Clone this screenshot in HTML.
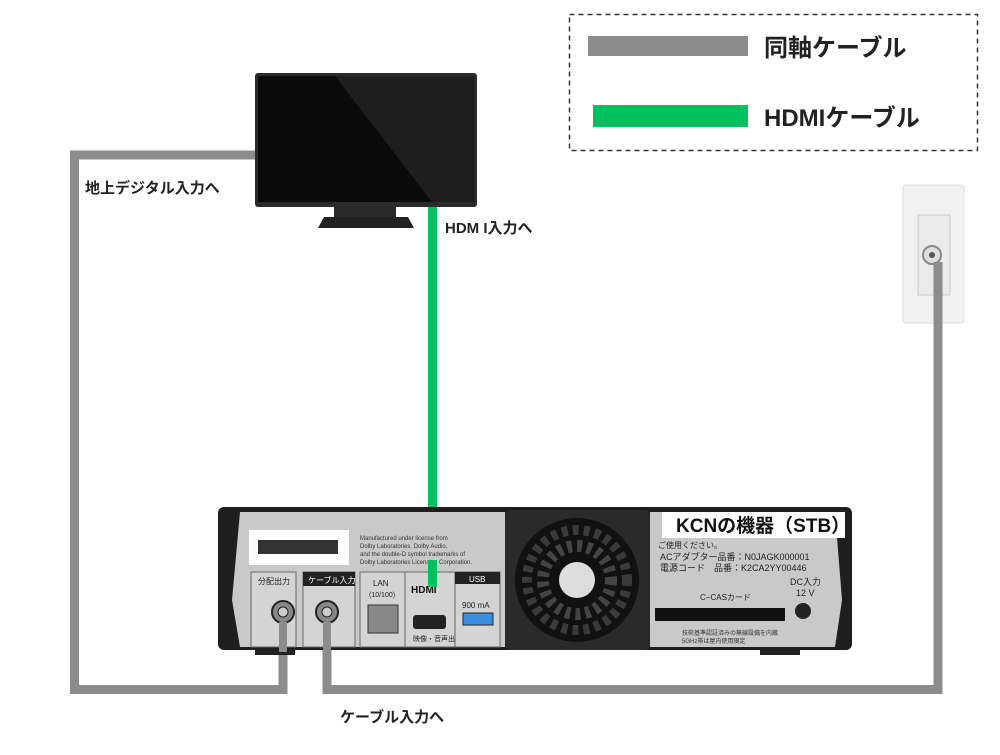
<!DOCTYPE html>
<html><head><meta charset="utf-8"><style>
body{margin:0;width:1000px;height:750px;background:#fff;overflow:hidden;font-family:"Liberation Sans","Noto Sans CJK JP",sans-serif}
svg text{font-family:"Liberation Sans","Noto Sans CJK JP",sans-serif}
</style></head><body>
<svg width="1000" height="750" viewBox="0 0 1000 750" xmlns="http://www.w3.org/2000/svg">
<!-- legend -->
<rect x="569.5" y="14.5" width="408" height="136" fill="#fff" stroke="#333" stroke-width="1.5" stroke-dasharray="5,4"/>
<rect x="588" y="36" width="160" height="20" fill="#8c8c8c"/>
<text x="764" y="56" font-size="24" font-weight="bold" fill="#222">同軸ケーブル</text>
<rect x="593" y="105" width="155" height="22" fill="#00c060"/>
<text x="764" y="126" font-size="24" font-weight="bold" fill="#222">HDMIケーブル</text>
<!-- cables -->
<polyline points="258,155 74.5,155 74.5,689.5 283,689.5 283,620" fill="none" stroke="#8c8c8c" stroke-width="9"/>
<polyline points="327,620 327,689.5 938,689.5 938,255" fill="none" stroke="#8c8c8c" stroke-width="9"/>
<!-- outlet -->
<rect x="903" y="185" width="61" height="138" rx="3" fill="#f1f1f1" stroke="#ddd"/>
<rect x="918" y="215" width="32" height="80" fill="#eaeaea" stroke="#ccc"/>
<circle cx="932" cy="255" r="9" fill="#ddd" stroke="#888" stroke-width="2"/>
<circle cx="932" cy="255" r="3" fill="#555"/>
<line x1="938" y1="262" x2="938" y2="330" stroke="#8c8c8c" stroke-width="9"/>
<!-- TV -->
<rect x="334" y="203" width="62" height="14" fill="#2a2a2a"/>
<polygon points="324,217 408,217 414,228 318,228" fill="#222"/>
<rect x="255" y="73" width="222" height="134" rx="3" fill="#2b2b2b"/>
<rect x="258" y="76" width="216" height="126" fill="#0a0a0a"/>
<polygon points="335,76 474,76 474,202 432,202" fill="#1e1e1e"/>
<!-- green -->
<rect x="428" y="207" width="9" height="380" fill="#00c060"/>
<!-- labels -->
<text x="85" y="193" font-size="15" font-weight="bold" fill="#222">地上デジタル入力へ</text>
<text x="445" y="233" font-size="15" font-weight="bold" fill="#222">HDM I入力へ</text>
<text x="340" y="722" font-size="15" font-weight="bold" fill="#222">ケーブル入力へ</text>
<!-- STB -->
<rect x="255" y="645" width="40" height="10" fill="#222"/>
<rect x="760" y="645" width="40" height="10" fill="#222"/>
<rect x="218" y="507" width="634" height="143" rx="6" fill="#1e1e1e"/>
<polygon points="240,512 505,512 505,647 240,647 232,600" fill="#c9c9c9"/>
<polygon points="650,512 835,512 842,600 835,647 650,647" fill="#c9c9c9"/>
<rect x="505" y="510" width="145" height="140" rx="6" fill="#2a2a2a"/>
<circle cx="577" cy="580" r="62" fill="#111"/>
<circle cx="577" cy="580" r="50" fill="none" stroke="#3a3a3a" stroke-width="10" stroke-dasharray="6,5"/>
<circle cx="577" cy="580" r="34" fill="none" stroke="#444" stroke-width="12" stroke-dasharray="5,5"/>
<circle cx="577" cy="580" r="18" fill="#ddd"/>
<rect x="249" y="530" width="100" height="35" fill="#fff"/>
<rect x="258" y="540" width="80" height="14" fill="#333"/>
<text x="360" y="540" font-size="6" fill="#333">Manufactured under license from</text>
<text x="360" y="548" font-size="6" fill="#333">Dolby Laboratories. Dolby Audio,</text>
<text x="360" y="556" font-size="6" fill="#333">and the double-D symbol trademarks of</text>
<text x="360" y="564" font-size="6" fill="#333">Dolby Laboratories Licensing Corporation.</text>
<rect x="251" y="572" width="45" height="75" fill="#d4d4d4" stroke="#666"/>
<text x="258" y="584" font-size="8" fill="#222">分配出力</text>
<rect x="303" y="572" width="52" height="75" fill="#d4d4d4" stroke="#666"/>
<rect x="303" y="572" width="52" height="14" fill="#222"/>
<text x="308" y="583" font-size="8" fill="#fff">ケーブル入力</text>
<rect x="360" y="572" width="45" height="75" fill="#d4d4d4" stroke="#666"/>
<text x="373" y="586" font-size="8" fill="#222">LAN</text>
<text x="369" y="597" font-size="7" fill="#222">(10/100)</text>
<rect x="368" y="605" width="30" height="28" fill="#888" stroke="#333"/>
<rect x="405" y="572" width="50" height="75" fill="#d4d4d4" stroke="#666"/>
<text x="411" y="593" font-size="10" font-weight="bold" fill="#111">HDMI</text>
<rect x="413" y="615" width="33" height="14" rx="3" fill="#222"/>
<text x="413" y="641" font-size="7" fill="#222">映像・音声出力</text>
<rect x="455" y="572" width="45" height="75" fill="#d4d4d4" stroke="#666"/>
<rect x="455" y="572" width="45" height="12" fill="#222"/>
<text x="469" y="582" font-size="8" fill="#fff">USB</text>
<text x="462" y="608" font-size="8" fill="#222">900 mA</text>
<rect x="463" y="613" width="30" height="12" fill="#3a8ee0" stroke="#222"/>
<circle cx="283" cy="612" r="11" fill="#888" stroke="#222" stroke-width="2"/>
<circle cx="283" cy="612" r="5" fill="#ccc" stroke="#222"/>
<circle cx="327" cy="612" r="11" fill="#888" stroke="#222" stroke-width="2"/>
<circle cx="327" cy="612" r="5" fill="#ccc" stroke="#222"/>
<rect x="279" y="622" width="8" height="30" fill="#8c8c8c"/>
<rect x="323" y="622" width="8" height="30" fill="#8c8c8c"/>
<rect x="428" y="560" width="9" height="27" fill="#00c060"/>
<rect x="662" y="512" width="183" height="26" fill="#fff"/>
<text x="676" y="532" font-size="19" font-weight="bold" fill="#111">KCNの機器（STB）</text>
<text x="658" y="548" font-size="8" fill="#222">ご使用ください。</text>
<text x="660" y="560" font-size="9" fill="#222">ACアダプター品番：N0JAGK000001</text>
<text x="660" y="571" font-size="9" fill="#222">電源コード　品番：K2CA2YY00446</text>
<text x="700" y="600" font-size="8" fill="#222">C−CASカード</text>
<text x="790" y="585" font-size="9" fill="#222">DC入力</text>
<text x="796" y="596" font-size="9" fill="#222">12 V</text>
<circle cx="803" cy="611" r="8" fill="#222"/>
<rect x="655" y="608" width="130" height="13" fill="#111"/>
<text x="682" y="635" font-size="6" fill="#333">技術基準認証済みの無線設備を内蔵</text>
<text x="682" y="643" font-size="6" fill="#333">5GHz帯は屋内使用限定</text>
</svg>
</body></html>
